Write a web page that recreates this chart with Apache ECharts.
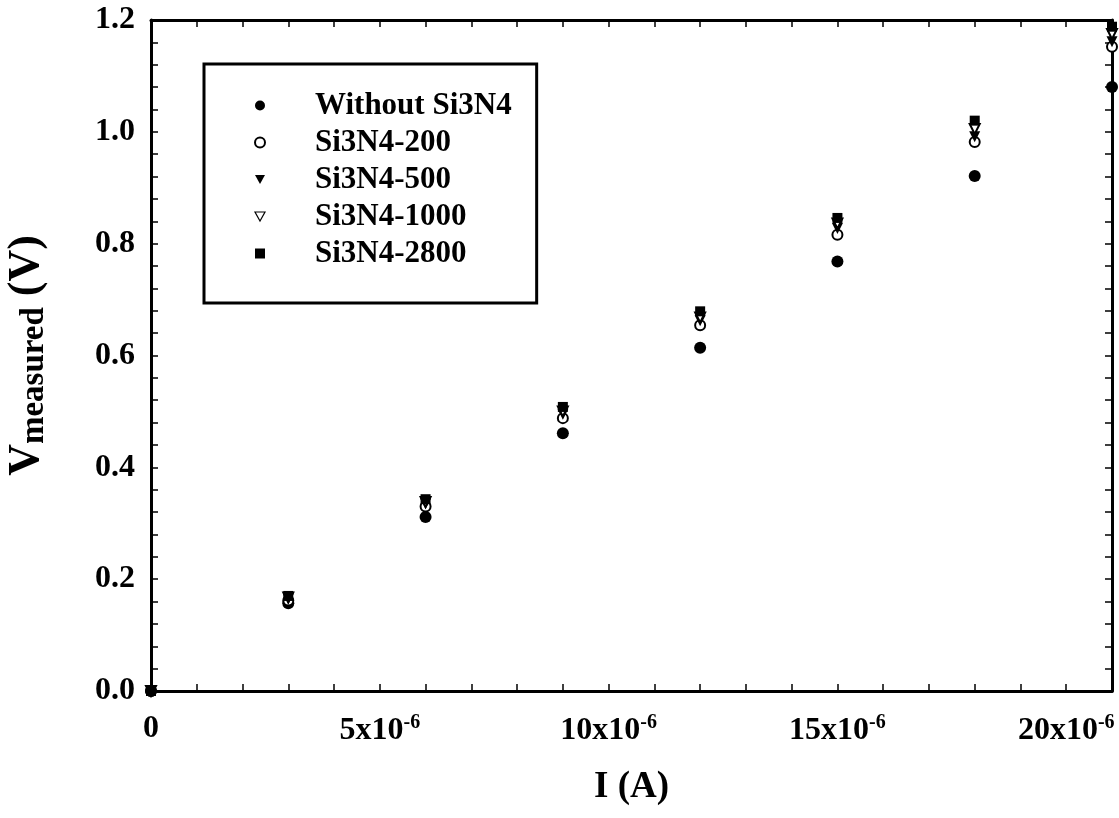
<!DOCTYPE html>
<html>
<head>
<meta charset="utf-8">
<script src="https://cdn.jsdelivr.net/npm/echarts@6/dist/echarts.min.js"></script>
<style>
  html, body { margin: 0; padding: 0; background: #fff; }
  #chart { width: 1119px; height: 818px; }
</style>
</head>
<body>
<div id="chart"></div>
<script>
// Applied current (A)
const currentA = [0, 3e-6, 6e-6, 9e-6, 12e-6, 15e-6, 18e-6, 21e-6];

// Measured voltage (V) for each sample
const vWithout = [0, 0.157, 0.311, 0.461, 0.614, 0.768, 0.921, 1.080];
const v200     = [0, 0.162, 0.330, 0.488, 0.654, 0.816, 0.982, 1.152];
const v500     = [0, 0.165, 0.335, 0.495, 0.662, 0.827, 0.991, 1.161];
const v1000    = [0, 0.167, 0.338, 0.500, 0.668, 0.836, 1.005, 1.175];
const v2800    = [0, 0.170, 0.343, 0.508, 0.679, 0.846, 1.020, 1.188];

const seriesNames = ['Without Si3N4', 'Si3N4-200', 'Si3N4-500', 'Si3N4-1000', 'Si3N4-2800'];

const FONT = 'Liberation Serif';
const pairs = (ys) => currentA.map((x, i) => [x, ys[i]]);

const DOWN_TRIANGLE = 'path://M0,0L10,0L5,9Z';

const markers = [
  { symbol: 'circle', size: 12, rotate: 0 },
  { symbol: 'emptyCircle', size: 10, rotate: 0 },
  { symbol: 'triangle', size: 11, rotate: 180 },
  { symbol: 'emptyTriangle', size: 10, rotate: 180 },
  { symbol: 'rect', size: 10, rotate: 0 }
];
const values = [vWithout, v200, v500, v1000, v2800];

// legend keys: the down-pointing triangles are given as explicit paths
const legendItems = [
  { name: seriesNames[0] },
  { name: seriesNames[1] },
  { name: seriesNames[2], icon: DOWN_TRIANGLE, itemStyle: { color: '#000', borderWidth: 0 } },
  { name: seriesNames[3], icon: DOWN_TRIANGLE, itemStyle: { color: '#fff', borderColor: '#000', borderWidth: 1.2 } },
  { name: seriesNames[4] }
];

const tickStyle = { show: true, inside: true, length: 7, lineStyle: { color: '#000', width: 1.5 } };
const lineStyle = { show: true, onZero: false, lineStyle: { color: '#000', width: 3 } };

const chart = echarts.init(document.getElementById('chart'), null, { renderer: 'canvas' });

chart.setOption({
  backgroundColor: '#fff',
  animation: false,
  grid: { left: 151, right: 7, top: 20, bottom: 127, outerBoundsMode: 'none', containLabel: false },
  legend: {
    data: legendItems,
    orient: 'vertical',
    left: 204,
    top: 64,
    padding: [26, 25, 34, 50],
    itemWidth: 10,
    itemHeight: 10,
    itemGap: 6,
    symbolKeepAspect: true,
    borderColor: '#000',
    borderWidth: 3,
    borderRadius: 0,
    backgroundColor: '#fff',
    itemStyle: { opacity: 1 },
    textStyle: {
      fontFamily: FONT, fontWeight: 'bold', fontSize: 31, color: '#000',
      padding: [0, 0, 0, 45]
    }
  },
  xAxis: [
    {
      type: 'value', position: 'bottom',
      min: 0, max: 21e-6, interval: 1e-6,
      axisLine: lineStyle, axisTick: tickStyle, splitLine: { show: false },
      name: 'I (A)', nameLocation: 'middle', nameGap: 78,
      nameTextStyle: { fontFamily: FONT, fontWeight: 'bold', fontSize: 37, color: '#000' },
      axisLabel: {
        margin: 22,
        color: '#000',
        formatter: (v) => {
          const n = Math.round(v * 1e6);
          if (n % 5 !== 0) return '';
          if (n === 0) return '{b|0}';
          return '{b|' + n + 'x10}{s|-6}';
        },
        rich: {
          b: { fontFamily: FONT, fontWeight: 'bold', fontSize: 32, color: '#000' },
          s: { fontFamily: FONT, fontWeight: 'bold', fontSize: 20, color: '#000', padding: [0, 0, 16, 0] }
        }
      }
    },
    {
      type: 'value', position: 'top',
      min: 0, max: 21e-6, interval: 1e-6,
      axisLine: lineStyle, axisTick: tickStyle, axisLabel: { show: false }, splitLine: { show: false }
    }
  ],
  yAxis: [
    {
      type: 'value', position: 'left',
      min: 0, max: 1.2, interval: 0.2,
      axisLine: lineStyle, axisTick: tickStyle,
      minorTick: { show: true, splitNumber: 5, length: 7, lineStyle: { color: '#000', width: 1.5 } },
      splitLine: { show: false }, minorSplitLine: { show: false },
      axisLabel: {
        margin: 16,
        fontFamily: FONT, fontWeight: 'bold', fontSize: 32, color: '#000',
        formatter: (v) => v.toFixed(1)
      },
      name: '{v|V}{s|measured}{v| (V)}',
      nameLocation: 'middle', nameRotate: 90, nameGap: 100,
      nameTextStyle: {
        rich: {
          v: { fontFamily: FONT, fontWeight: 'bold', fontSize: 44, color: '#000' },
          s: { fontFamily: FONT, fontWeight: 'bold', fontSize: 33, color: '#000', padding: [16, 0, 0, 0] }
        }
      }
    },
    {
      type: 'value', position: 'right',
      min: 0, max: 1.2, interval: 0.2,
      axisLine: lineStyle, axisTick: tickStyle,
      minorTick: { show: true, splitNumber: 5, length: 7, lineStyle: { color: '#000', width: 1.5 } },
      axisLabel: { show: false }, splitLine: { show: false }
    }
  ],
  series: seriesNames.map((name, i) => ({
    name,
    type: 'scatter',
    xAxisIndex: 0,
    yAxisIndex: 0,
    clip: false,
    symbol: markers[i].symbol,
    symbolSize: markers[i].size,
    symbolRotate: markers[i].rotate,
    itemStyle: {
      color: '#000',
      opacity: 1,
      borderWidth: markers[i].symbol.indexOf('empty') === 0 ? 1.2 : 0
    },
    emphasis: { disabled: true },
    data: pairs(values[i]),
    z: 3 + i
  }))
});
</script>
</body>
</html>
